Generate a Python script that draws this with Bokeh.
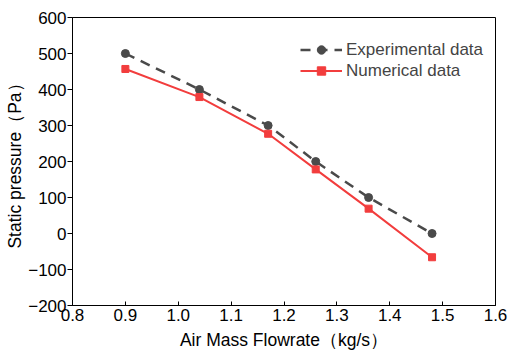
from bokeh.plotting import figure
from bokeh.models import Range1d, FixedTicker, Legend
from bokeh.embed import file_html
from bokeh.resources import INLINE

flow = [0.9, 1.04, 1.17, 1.26, 1.36, 1.48]
experimental = [500, 400, 300, 200, 100, 0]
numerical = [457, 379, 277, 178, 69, -66]
x_ticks = [0.8, 0.9, 1.0, 1.1, 1.2, 1.3, 1.4, 1.5, 1.6]
y_ticks = [-200, -100, 0, 100, 200, 300, 400, 500, 600]

FONT = "Liberation Sans"
GRAY = "#4a4a4a"
RED = "#f23d3d"

p = figure(width=509, height=357, output_backend="svg", toolbar_location=None,
           x_range=Range1d(0.8, 1.6), y_range=Range1d(-200, 600),
           min_border_left=72, min_border_right=14, min_border_top=17, min_border_bottom=52)
p.grid.visible = False
p.outline_line_color = "black"
p.outline_line_width = 1
p.background_fill_color = "white"
p.border_fill_color = "white"

r1 = p.line(flow, experimental, line_color=GRAY, line_width=2.5, line_dash="10 7")
s1 = p.scatter(flow, experimental, marker="circle", size=8, fill_color=GRAY, line_color=GRAY)
r2 = p.line(flow, numerical, line_color=RED, line_width=2)
s2 = p.scatter(flow, numerical, marker="square", size=7, fill_color=RED, line_color=RED)

legend = Legend(items=[("Experimental data", [r1, s1]), ("Numerical data", [r2, s2])],
                location=(228, 224), border_line_color=None, background_fill_alpha=0,
                label_text_font=FONT, label_text_font_size="17px", glyph_width=42,
                glyph_height=21, spacing=0, padding=0, margin=0, label_standoff=4,
                label_height=21)
p.add_layout(legend)

p.xaxis.ticker = FixedTicker(ticks=x_ticks)
p.yaxis.ticker = FixedTicker(ticks=y_ticks)
p.xaxis.major_label_overrides = {t: f"{t:.1f}" for t in x_ticks}
p.xaxis.major_tick_in = 4
p.xaxis.major_tick_out = 0
p.yaxis.major_tick_in = 0
p.yaxis.major_tick_out = 5
p.axis.minor_tick_line_color = None
p.axis.axis_line_color = "black"
p.axis.major_tick_line_color = "black"
p.axis.major_label_text_font = FONT
p.axis.major_label_text_font_size = "17px"
p.axis.major_label_text_color = "black"
p.axis.axis_label_text_font = FONT
p.axis.axis_label_text_font_size = "17.5px"
p.axis.axis_label_text_font_style = "normal"
p.axis.axis_label_text_color = "black"
p.xaxis.axis_label = "Air Mass Flowrate（kg/s）"
p.yaxis.axis_label = "Static pressure（Pa）"
p.xaxis.major_label_standoff = 3
p.yaxis.major_label_standoff = 1
p.xaxis.axis_label_standoff = 6
p.yaxis.axis_label_standoff = 0

open("out.html", "w").write(file_html(p, INLINE))
